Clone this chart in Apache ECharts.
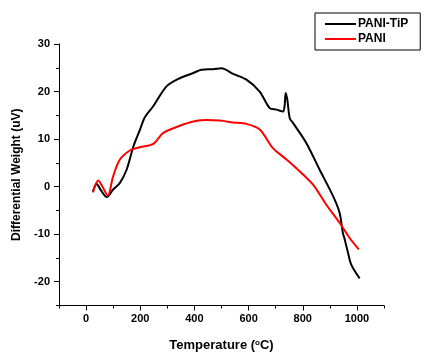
<!DOCTYPE html>
<html><head><meta charset="utf-8">
<script src="https://cdn.jsdelivr.net/npm/echarts@6/dist/echarts.min.js"></script>
<style>html,body{margin:0;padding:0;background:#fff}#c{width:430px;height:357px}</style>
</head><body><div id="c"></div>
<script>
const seriesNames = ['PANI-TiP', 'PANI'];
const tempTiP = [25, 39, 55, 76, 100, 125, 150, 175, 199, 217, 248, 297, 346, 396, 426, 469, 500, 543, 592, 641, 678, 703, 727, 733, 737, 743, 752, 764, 813, 862, 912, 936, 948, 955, 967, 979, 1010];
const valTiP = [-1.05, 0.56, -0.8, -2.2, -0.6, 0.8, 3.6, 8.5, 12.0, 14.6, 16.9, 21.1, 22.8, 23.9, 24.6, 24.7, 24.9, 23.7, 22.5, 20.0, 16.5, 16.2, 15.8, 17.0, 19.7, 18.3, 14.4, 13.4, 9.2, 3.6, -2.0, -5.5, -9.7, -11.1, -13.9, -16.4, -19.3];
const tempPANI = [25, 45, 62, 80, 100, 125, 162, 199, 248, 285, 346, 396, 445, 494, 543, 592, 641, 690, 740, 789, 838, 887, 936, 973, 1007];
const valPANI = [-1.2, 1.3, -0.2, -1.9, 2.2, 5.7, 7.6, 8.3, 9.0, 11.3, 12.8, 13.7, 14.0, 13.9, 13.5, 13.2, 12.0, 8.1, 5.7, 3.2, 0.4, -3.8, -7.6, -10.8, -13.2];
const xMajor = [0, 200, 400, 600, 800, 1000];
const xMinor = [-100, 100, 300, 500, 700, 900, 1100];
const yMajor = [-20, -10, 0, 10, 20, 30];
const yMinor = [-25, -15, -5, 5, 15, 25];

const FONT = 'Liberation Sans';
const lbl = {color: '#000', fontFamily: FONT, fontWeight: 'bold', fontSize: 11, formatter: v => String(v)};
const chart = echarts.init(document.getElementById('c'));
const pairs = (xs, ys) => xs.map((x, i) => [x, ys[i]]);
chart.setOption({
  animation: false,
  grid: {left: 59, top: 44, right: 46, bottom: 51},
  legend: {
    left: 315, top: 13, orient: 'vertical',
    padding: [5, 12, 5, 10], itemGap: 3,
    borderColor: '#000', borderWidth: 1,
    icon: 'rect', itemWidth: 31, itemHeight: 2,
    textStyle: {color: '#000', fontFamily: FONT, fontWeight: 'bold', fontSize: 12, padding: [0, 0, 0, -3]},
    data: seriesNames
  },
  xAxis: [{
    type: 'value', min: -100, max: 1100,
    name: 'Temperature ({s|o}C)', nameLocation: 'middle', nameGap: 33,
    nameTextStyle: {color: '#000', fontFamily: FONT, fontWeight: 'bold', fontSize: 13,
      rich: {s: {fontSize: 8, fontWeight: 'bold', fontFamily: FONT, color: '#000', verticalAlign: 'top', padding: [0, 0, 6, 0]}}},
    axisLine: {onZero: false, lineStyle: {color: '#000', width: 1}},
    axisTick: {customValues: xMajor, length: 5, lineStyle: {color: '#000'}},
    axisLabel: Object.assign({customValues: xMajor, margin: 8}, lbl),
    splitLine: {show: false}
  }, {
    type: 'value', min: -100, max: 1100, position: 'bottom',
    axisLine: {show: false, onZero: false},
    axisTick: {customValues: xMinor, length: 3, lineStyle: {color: '#000'}},
    axisLabel: {show: false}, splitLine: {show: false}
  }],
  yAxis: [{
    type: 'value', min: -25, max: 30,
    name: 'Differential Weight (uV)', nameLocation: 'middle', nameGap: 36,
    nameTextStyle: {color: '#000', fontFamily: FONT, fontWeight: 'bold', fontSize: 12},
    axisLine: {show: true, onZero: false, lineStyle: {color: '#000', width: 1}},
    axisTick: {show: true, customValues: yMajor, length: 5, lineStyle: {color: '#000'}},
    axisLabel: Object.assign({customValues: yMajor, margin: 9}, lbl),
    splitLine: {show: false}
  }, {
    type: 'value', min: -25, max: 30, position: 'left',
    axisLine: {show: false, onZero: false},
    axisTick: {show: true, customValues: yMinor, length: 3, lineStyle: {color: '#000'}},
    axisLabel: {show: false}, splitLine: {show: false}
  }],
  series: [
    {name: seriesNames[0], type: 'line', data: pairs(tempTiP, valTiP), showSymbol: false, smooth: 0.3,
     lineStyle: {color: '#000', width: 2}, itemStyle: {color: '#000'}},
    {name: seriesNames[1], type: 'line', data: pairs(tempPANI, valPANI), showSymbol: false, smooth: 0.3,
     lineStyle: {color: '#ff0000', width: 2}, itemStyle: {color: '#ff0000'}}
  ]
});
</script></body></html>
